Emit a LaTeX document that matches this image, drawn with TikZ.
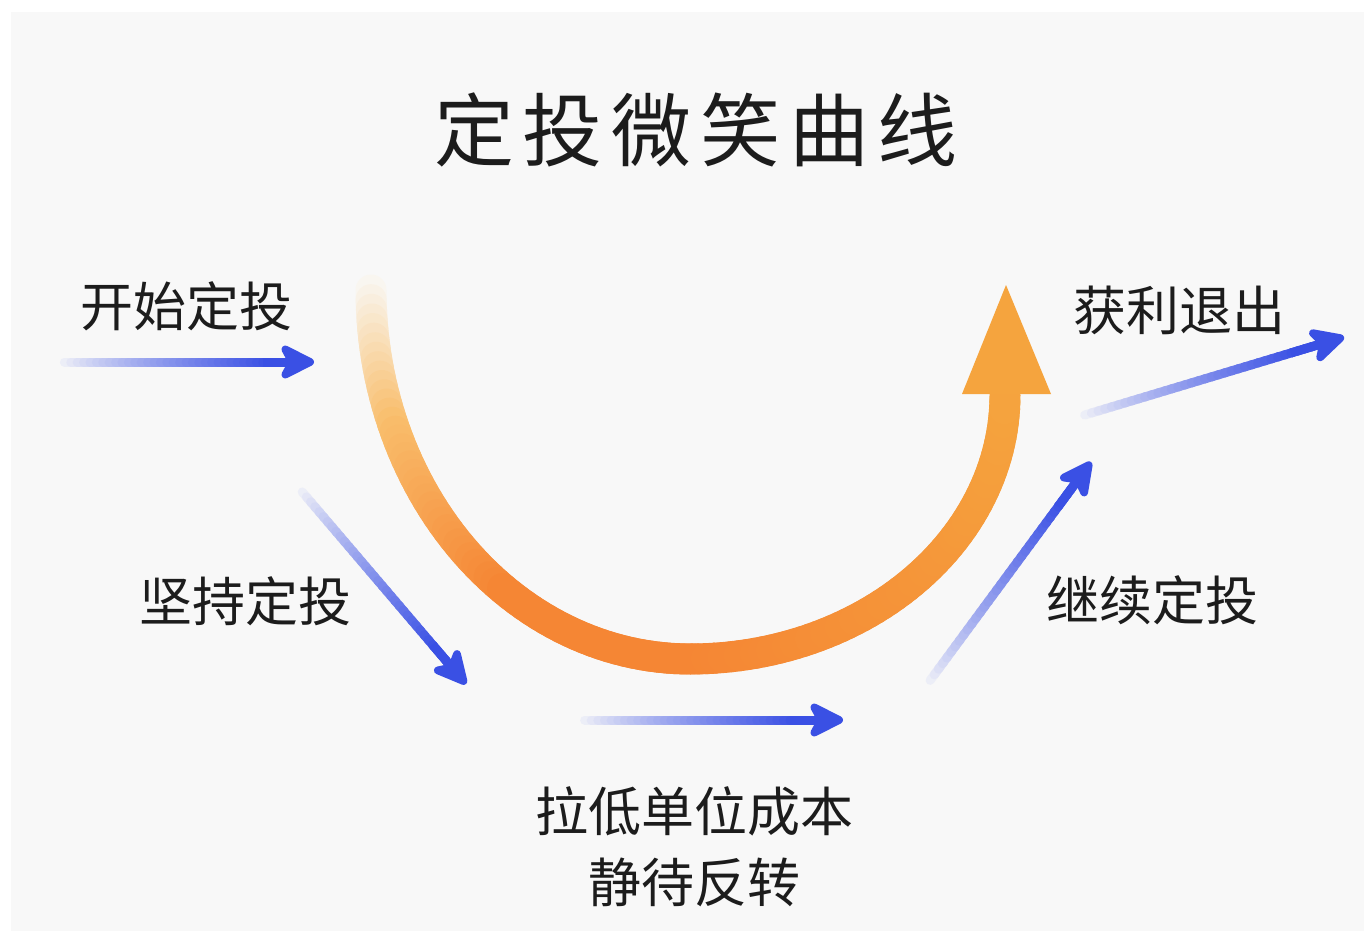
\documentclass[tikz,border=0pt]{standalone}
\usepackage{fontspec}
\usetikzlibrary{arrows.meta,calc}
\newfontfamily\cjk{Noto Sans CJK SC}
\definecolor{bgc}{RGB}{248,248,248}
\definecolor{blueA}{RGB}{58,80,228}
\definecolor{oA}{RGB}{245,134,52}
\definecolor{oB}{RGB}{245,164,62}
\definecolor{omid}{RGB}{249,190,108}
\definecolor{opale}{RGB}{249,246,240}
\definecolor{txt}{RGB}{28,28,28}
\tikzset{
  lbl/.style={font=\cjk\fontsize{53}{60}\selectfont, text=txt, inner sep=0pt},
  blueshaft/.style={line width=9pt, line cap=round},
  orangeseg/.style={line width=31pt, line cap=round},
}
\newcommand\gradarrow[2]{%
  \foreach \i in {0,...,36}{%
    \pgfmathsetmacro\p{100*min(1,(\i/33)^0.8)}%
    \draw[blueshaft, blueA!\p!bgc] ($(#1)!{\i/40}!(#2)$) -- ($(#1)!{(\i+1.3)/40}!(#2)$);
  }%
  \draw[line width=9pt, blueA, -{Stealth[length=42pt,width=42pt,inset=11pt,round]}] ($(#1)!0.8!(#2)$) -- (#2);
}
\begin{document}
\begin{tikzpicture}[x=1pt,y=-1pt]
\useasboundingbox (0,0) rectangle (1364,931);
\fill[white] (0,0) rectangle (1364,931);
\fill[bgc] (11,12) rectangle (1364,931);

% title
\node[font=\cjk\fontsize{80}{90}\selectfont\addfontfeature{LetterSpace=11}, text=txt, inner sep=0pt] (title) at (696,130) {定投微笑曲线};

% labels
\node[lbl] (start) at (186,306) {开始定投};
\node[lbl] (keep) at (245,601) {坚持定投};
\node[lbl] (lower) at (694,811) {拉低单位成本};
\node[lbl] (wait) at (694,882) {静待反转};
\node[lbl] (cont) at (1152,600) {继续定投};
\node[lbl] (exit) at (1179,310) {获利退出};

% smile curve
\foreach \a in {0,1.5,...,88.5}{%
  \pgfmathsetmacro\f{\a/90}%
  \pgfmathsetmacro\r{100*min(1,\f/0.24)}%
  \pgfmathsetmacro\q{100*max(0,min(1,(\f-0.24)/0.36))}%
  \draw[orangeseg, oA!\q!omid!\r!opale]
    ({690-319*cos(\a)},{290+369*sin(\a)}) -- ({690-319*cos(\a+2)},{290+369*sin(\a+2)});
}
\foreach \a in {90,91.5,...,178.5}{%
  \pgfmathsetmacro\g{100-100*(\a-90)/90}%
  \draw[orangeseg, oA!\g!oB]
    ({690-315*cos(\a)},{395+264*sin(\a)}) -- ({690-315*cos(\a+1.5)},{395+264*sin(\a+1.5)});
}
\coordinate (hl) at (962,394);
\coordinate (ht) at (1006,285);
\coordinate (hr) at (1051,394);
\fill[oB] (hl) -- (ht) -- (hr) -- cycle;

% blue arrows
\coordinate (a1s) at (58,362);   \coordinate (a1e) at (314,362);
\coordinate (a2s) at (298,487);  \coordinate (a2e) at (466,684);
\coordinate (a3s) at (578,720);  \coordinate (a3e) at (843,720);
\coordinate (a4s) at (926,686);  \coordinate (a4e) at (1091,462);
\coordinate (a5s) at (1078,417); \coordinate (a5e) at (1344,337);
\gradarrow{a1s}{a1e}
\gradarrow{a2s}{a2e}
\gradarrow{a3s}{a3e}
\gradarrow{a4s}{a4e}
\gradarrow{a5s}{a5e}
\end{tikzpicture}
\end{document}
